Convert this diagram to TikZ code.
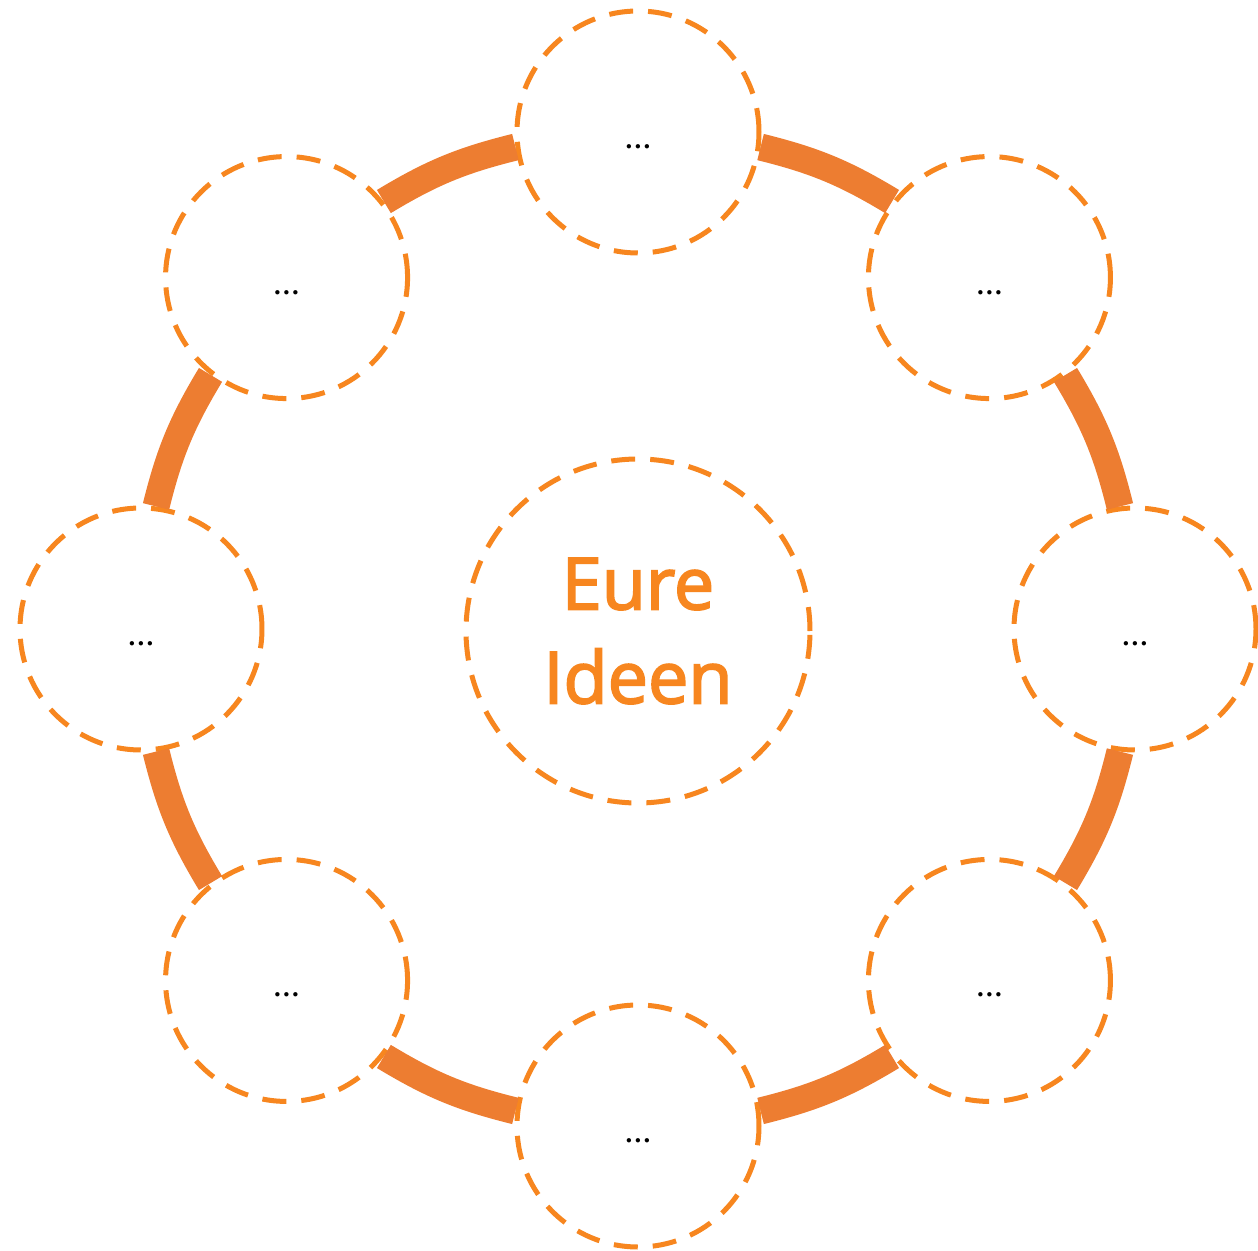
\documentclass[tikz,border=0pt]{standalone}
\usepackage{fontspec}
\setmainfont{Fira Sans}
\newfontfamily\hubfont[FakeBold=2.5]{Open Sans}
\usepackage{tikz}
\usepackage{xcolor}
\usetikzlibrary{positioning}
\definecolor{ideaorange}{RGB}{247, 134, 31}
\definecolor{linkorange}{RGB}{237, 125, 49}
\newcommand{\ideadots}{.\kern3.2pt.\kern3.2pt.}
\tikzset{
    ideanode/.style={circle, draw=ideaorange, line width=5pt, dash pattern=on 24pt off 15pt, fill=white, minimum size=242pt, inner sep=0pt, font=\fontsize{24}{28}\selectfont\bfseries, text height=33pt, text depth=0pt},
    hubnode/.style={ideanode, minimum size=344pt, text=ideaorange, align=center, font=\fontsize{72}{94}\selectfont\hubfont, text height=, text depth=},
    linkarc/.style={draw=linkorange, line width=27pt}
}
\begin{document}
\begin{tikzpicture}[x=1pt, y=1pt]
    \useasboundingbox (-638,-621) rectangle (620,629);

    % The topic in the middle
    \node[hubnode] (hub) at (0,-2) {Eure\\Ideen};

    % Ring of ideas around it
    \node[ideanode] (n0) at (90:497) {\ideadots};
    \node[ideanode] (n1) at (135:497) {\ideadots};
    \node[ideanode] (n2) at (180:497) {\ideadots};
    \node[ideanode] (n3) at (225:497) {\ideadots};
    \node[ideanode] (n4) at (270:497) {\ideadots};
    \node[ideanode] (n5) at (315:497) {\ideadots};
    \node[ideanode] (n6) at (0:497) {\ideadots};
    \node[ideanode] (n7) at (45:497) {\ideadots};

    % Thick links along the ring
    \draw[linkarc] (n0.187) to[bend right=8.6] (n1.38);
    \draw[linkarc] (n1.232) to[bend right=8.6] (n2.83);
    \draw[linkarc] (n2.277) to[bend right=8.6] (n3.128);
    \draw[linkarc] (n3.322) to[bend right=8.6] (n4.173);
    \draw[linkarc] (n4.7) to[bend right=8.6] (n5.218);
    \draw[linkarc] (n5.52) to[bend right=8.6] (n6.263);
    \draw[linkarc] (n6.97) to[bend right=8.6] (n7.308);
    \draw[linkarc] (n7.142) to[bend right=8.6] (n0.353);
\end{tikzpicture}
\end{document}
